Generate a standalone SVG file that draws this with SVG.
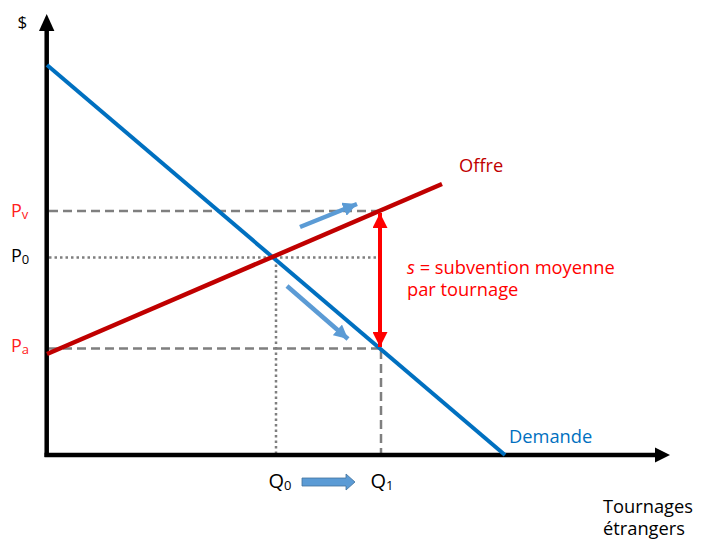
<svg xmlns="http://www.w3.org/2000/svg" width="703" height="551" viewBox="0 0 703 551">
<style>
text{font-family:"Open Sans","Liberation Sans",sans-serif;}
.dash{stroke:#7f7f7f;stroke-width:2.5;stroke-dasharray:9 5;fill:none}
.dot{stroke:#7f7f7f;stroke-width:2.5;stroke-dasharray:2.5 3;fill:none}
.lbl{font-size:18.3px}
.ax{font-size:18px}
.sub{font-size:13px}
</style>
<defs>
<marker id="lb" viewBox="0 0 10 10" refX="10" refY="5" markerWidth="14" markerHeight="14" orient="auto" markerUnits="userSpaceOnUse">
<path d="M0,0 L10,5 L0,10 Z" fill="#5b9bd5"/>
</marker>
<marker id="rd" viewBox="0 0 10 10" refX="10" refY="5" markerWidth="15" markerHeight="15" orient="auto-start-reverse" markerUnits="userSpaceOnUse">
<path d="M0,0 L10,5 L0,10 Z" fill="#ff0000"/>
</marker>
</defs>
<rect width="703" height="551" fill="#fff"/>

<g id="guides">
<line class="dash" x1="49" y1="211" x2="380" y2="211"/>
<line class="dot" x1="49" y1="257.5" x2="378" y2="257.5"/>
<line class="dash" x1="49" y1="348.5" x2="381" y2="348.5"/>
<line class="dot" x1="276" y1="259" x2="276" y2="453"/>
<line class="dash" x1="381" y1="350" x2="381" y2="453"/>
</g>

<g id="axes">
<line x1="46.7" y1="457" x2="46.7" y2="30" stroke="#000" stroke-width="4.5"/>
<path d="M39,31 L46.7,14 L54.4,31 Z" fill="#000"/>
<line x1="44.5" y1="455" x2="656" y2="455" stroke="#000" stroke-width="4.5"/>
<path d="M655,447.5 L670,455 L655,462.5 Z" fill="#000"/>
</g>

<g id="demande">
<line x1="47" y1="65" x2="505" y2="455" stroke="#0070c0" stroke-width="4"/>
<text x="509" y="443" fill="#0070c0" class="lbl">Demande</text>
</g>

<g id="offre">
<line x1="47" y1="354" x2="442" y2="184" stroke="#c00000" stroke-width="4.5"/>
<text x="459" y="172" fill="#c00000" class="lbl">Offre</text>
</g>

<g id="connectors">
<line x1="300" y1="227" x2="357" y2="204" stroke="#5b9bd5" stroke-width="4.5" marker-end="url(#lb)"/>
<line x1="287" y1="286" x2="348" y2="339" stroke="#5b9bd5" stroke-width="4.5" marker-end="url(#lb)"/>
<line x1="380" y1="213" x2="380" y2="347" stroke="#ff0000" stroke-width="4" marker-start="url(#rd)" marker-end="url(#rd)"/>
<path d="M302,478 L346,478 L346,474 L355,482 L346,490 L346,486 L302,486 Z" fill="#5b9bd5" stroke="#41719c" stroke-width="0.8"/>
</g>

<g id="subvention">
<text x="407" y="274" fill="#ff0000" class="lbl"><tspan font-style="italic">s</tspan> = subvention moyenne</text>
<text x="407" y="296" fill="#ff0000" class="lbl">par tournage</text>
</g>

<g id="labels">
<text x="17.5" y="28" font-size="17" fill="#000">$</text>
<text x="11" y="216.5" fill="#ff2020" class="ax">P<tspan class="sub" dy="2">v</tspan></text>
<text x="11" y="261.5" fill="#000" class="ax">P<tspan class="sub" dy="2">0</tspan></text>
<text x="11" y="352" fill="#ff2020" class="ax">P<tspan class="sub" dy="2">a</tspan></text>
<text x="268.5" y="488" fill="#000" font-size="20">Q<tspan class="sub" dy="2">0</tspan></text>
<text x="370.5" y="488" fill="#000" font-size="20">Q<tspan class="sub" dy="2">1</tspan></text>
<text x="603" y="513" fill="#000" class="lbl">Tournages</text>
<text x="603" y="535" fill="#000" class="lbl">étrangers</text>
</g>
</svg>
